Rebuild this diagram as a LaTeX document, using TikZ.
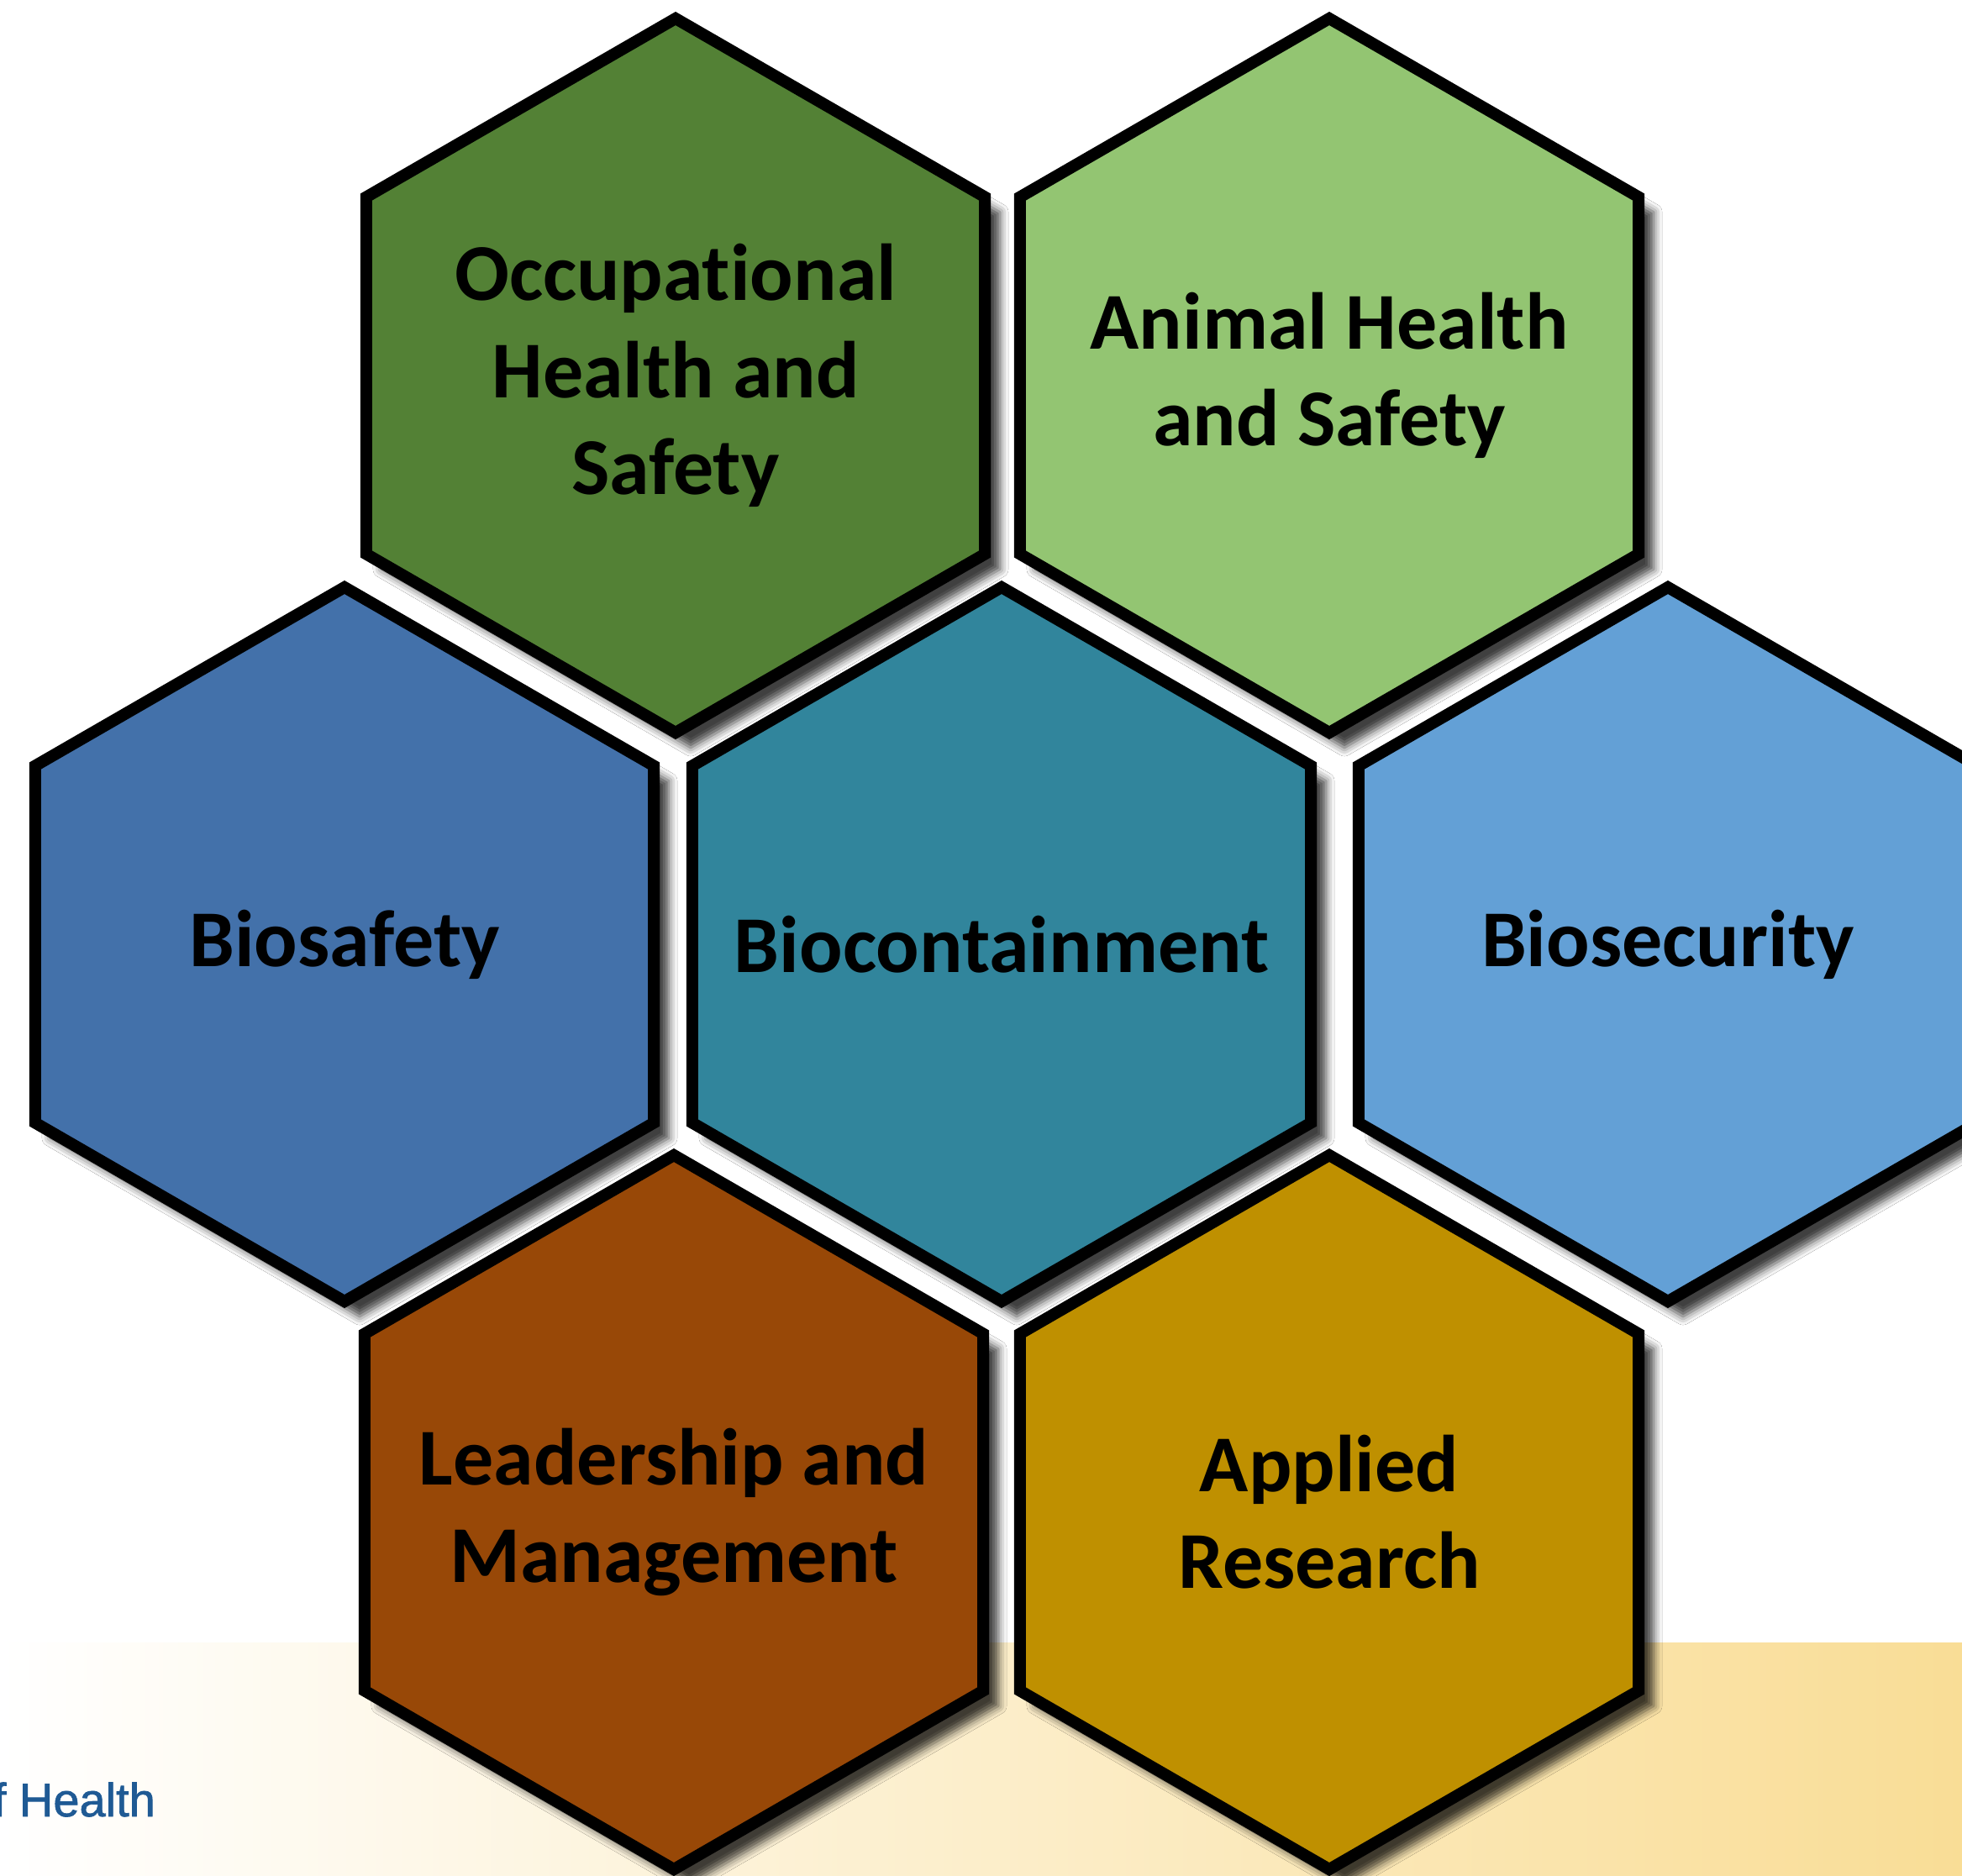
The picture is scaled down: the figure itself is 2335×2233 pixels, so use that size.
\documentclass[tikz,border=0pt]{standalone}
\usepackage{fontspec}
\setmainfont{Carlito}[Ligatures={NoCommon}]
\newfontfamily\logofont{Liberation Sans}[FakeBold=1.2]
\usetikzlibrary{shadows.blur}
\definecolor{occC}{HTML}{538135}
\definecolor{animalC}{HTML}{93C572}
\definecolor{biosafC}{HTML}{4371AA}
\definecolor{biocontC}{HTML}{31859C}
\definecolor{biosecC}{HTML}{63A0D6}
\definecolor{leadC}{HTML}{984807}
\definecolor{applC}{HTML}{BF9000}
\definecolor{bandC}{HTML}{F9DD96}
\definecolor{logoC}{HTML}{1F5A94}
\tikzset{
  hexcell/.style={draw=black, line width=7pt, line join=miter,
    blur shadow={shadow xshift=9pt, shadow yshift=-9pt, shadow blur radius=5pt, shadow opacity=75}},
  hexlabel/.style={align=center, font=\bfseries\fontsize{48}{57.6}\selectfont, text=black, inner sep=0pt},
  logotext/.style={font=\logofont\fontsize{28}{34}\selectfont, text=logoC, inner sep=0pt},
}
\newcommand\hexagoncell[5]{%
  \path[hexcell, fill=#4] (#2,#3) +(90:425) -- +(30:425) -- +(-30:425) -- +(-90:425) -- +(-150:425) -- +(150:425) -- cycle;
  \node[hexlabel] (#1) at (#2,#3) {#5};
}
\begin{document}
\begin{tikzpicture}[x=0.5pt, y=-0.5pt]
  \useasboundingbox (0,0) rectangle (2335,2233);
  \clip (0,0) rectangle (2335,2233);
  \fill[white] (0,0) rectangle (2335,2233);
  \shade[left color=white, right color=bandC] (0,1955) rectangle (2335,2233);
  \node[logotext, anchor=base west] (logo) at (-8.5,2162) {f Health};
  \hexagoncell{occ}{804}{447}{occC}{Occupational\\Health and\\Safety}
  \hexagoncell{animal}{1582}{447}{animalC}{Animal Health\\and Safety}
  \hexagoncell{biosafety}{410}{1124}{biosafC}{Biosafety}
  \hexagoncell{biocont}{1192}{1124}{biocontC}{Biocontainment}
  \hexagoncell{biosec}{1985}{1124}{biosecC}{Biosecurity}
  \hexagoncell{lead}{802}{1800}{leadC}{Leadership and\\Management}
  \hexagoncell{applied}{1582}{1800}{applC}{Applied\\Research}
\end{tikzpicture}
\end{document}
